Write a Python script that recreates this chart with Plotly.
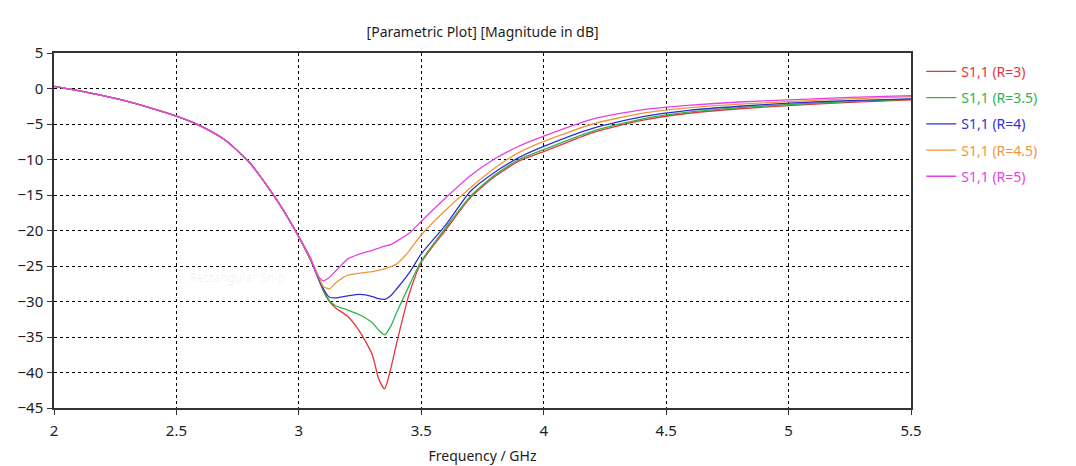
import plotly.graph_objects as go

# Frequency sweep (GHz)
freq = [2.0, 2.1, 2.2, 2.3, 2.4, 2.5, 2.6, 2.7, 2.8, 2.9, 2.95, 3.0,
        3.05, 3.075, 3.1, 3.125, 3.15, 3.2, 3.25, 3.3, 3.325, 3.35, 3.375, 3.4,
        3.45, 3.5, 3.6, 3.7, 3.8, 3.9, 4.0, 4.2, 4.4, 4.6, 4.8, 5.0, 5.25, 5.5]

# Shared low-frequency roll-off (2.0 - 3.0 GHz), dB
common = [0.3, -0.3, -1.0, -1.8, -2.8, -3.9, -5.3, -7.3, -10.5, -15.2, -17.9, -20.9]

# |S11| in dB for each radius value, 3.05 - 5.5 GHz
s11_r3 = [-24.3, -26.4, -28.5, -30.0, -30.9, -32.1, -34.3, -37.5, -40.8, -42.3, -39.5, -35.8,
          -29.0, -24.5, -19.9, -15.4, -12.4, -10.2, -8.9, -6.2, -4.5, -3.45, -2.85, -2.4, -1.95, -1.6]
s11_r35 = [-24.3, -26.4, -28.4, -29.9, -30.6, -31.2, -31.9, -33.0, -34.0, -34.7, -33.5, -31.5,
           -27.8, -24.3, -19.6, -15.2, -12.2, -10.0, -8.6, -6.0, -4.3, -3.3, -2.7, -2.25, -1.85, -1.5]
s11_r4 = [-24.3, -26.3, -28.2, -29.4, -29.5, -29.2, -29.0, -29.3, -29.6, -29.7, -29.2, -28.2,
          -26.0, -23.3, -19.2, -14.5, -11.8, -9.7, -8.15, -5.6, -4.0, -3.05, -2.5, -2.05, -1.7, -1.45]
s11_r45 = [-24.2, -26.0, -27.9, -28.2, -27.4, -26.3, -26.0, -25.8, -25.6, -25.4, -25.1, -24.7,
           -22.9, -20.6, -17.1, -14.0, -11.2, -9.0, -7.45, -5.0, -3.5, -2.7, -2.2, -1.85, -1.45, -1.15]
s11_r5 = [-24.0, -26.3, -27.1, -26.6, -25.7, -24.0, -23.3, -22.8, -22.5, -22.2, -22.0, -21.5,
          -20.4, -18.7, -15.4, -12.3, -9.9, -8.1, -6.7, -4.3, -3.0, -2.35, -1.9, -1.6, -1.25, -1.0]

labels = ["S1,1 (R=3)", "S1,1 (R=3.5)", "S1,1 (R=4)", "S1,1 (R=4.5)", "S1,1 (R=5)"]
colors = ["#e8343a", "#2fb44a", "#2f2fd8", "#f0963c", "#e640e6"]
series = [s11_r3, s11_r35, s11_r4, s11_r45, s11_r5]

FONT = "Noto Sans"
TEXT = "#1e1e1e"

fig = go.Figure()
for i, (lab, col, vals) in enumerate(zip(labels, colors, series)):
    fig.add_trace(go.Scatter(
        x=freq, y=common + vals, mode="lines",
        line=dict(color=col, width=1.3, shape="spline", smoothing=0.6),
        name=f"<span style='color:{col}'>{lab}</span>",
        legendgroup=f"g{i}",
    ))

axis_common = dict(
    showline=True, linecolor="#333333", linewidth=1.5, mirror=True,
    showgrid=True, gridcolor="#000000", gridwidth=1, griddash="3px,3px",
    ticks="outside", ticklen=5, tickcolor="#333333",
    tickfont=dict(family=FONT, size=15, color=TEXT),
    zeroline=False, automargin=False,
)

fig.update_xaxes(range=[2, 5.5], tickvals=[2, 2.5, 3, 3.5, 4, 4.5, 5, 5.5],
                 ticktext=["2", "2.5", "3", "3.5", "4", "4.5", "5", "5.5"],
                 ticklabelstandoff=3,
                 title=dict(text="Frequency / GHz", font=dict(family=FONT, size=14, color=TEXT),
                            standoff=12),
                 **axis_common)
fig.update_yaxes(range=[-45, 5], tickvals=list(range(-45, 10, 5)),
                 ticklabelstandoff=1, **axis_common)

fig.update_layout(
    width=1076, height=466,
    margin=dict(l=54, r=165, t=53, b=58),
    paper_bgcolor="white", plot_bgcolor="white",
    title=dict(text="[Parametric Plot] [Magnitude in dB]", x=0.4485, xanchor="center",
               y=0.931, yanchor="middle", font=dict(family=FONT, size=14, color=TEXT)),
    legend=dict(x=1.012, y=0.992, xanchor="left", yanchor="top",
                font=dict(family=FONT, size=14), tracegroupgap=5,
                traceorder="grouped", bgcolor="rgba(0,0,0,0)", itemwidth=30),
    showlegend=True,
)

# faint screen-capture tooltip left over on the canvas
fig.add_annotation(x=0.155, y=-26.6, xref="paper", yref="y", text="Rectangular Snip",
                   showarrow=False, font=dict(family=FONT, size=12, color="rgba(0,0,0,0.07)"),
                   xanchor="left")

fig.write_html("out.html")
